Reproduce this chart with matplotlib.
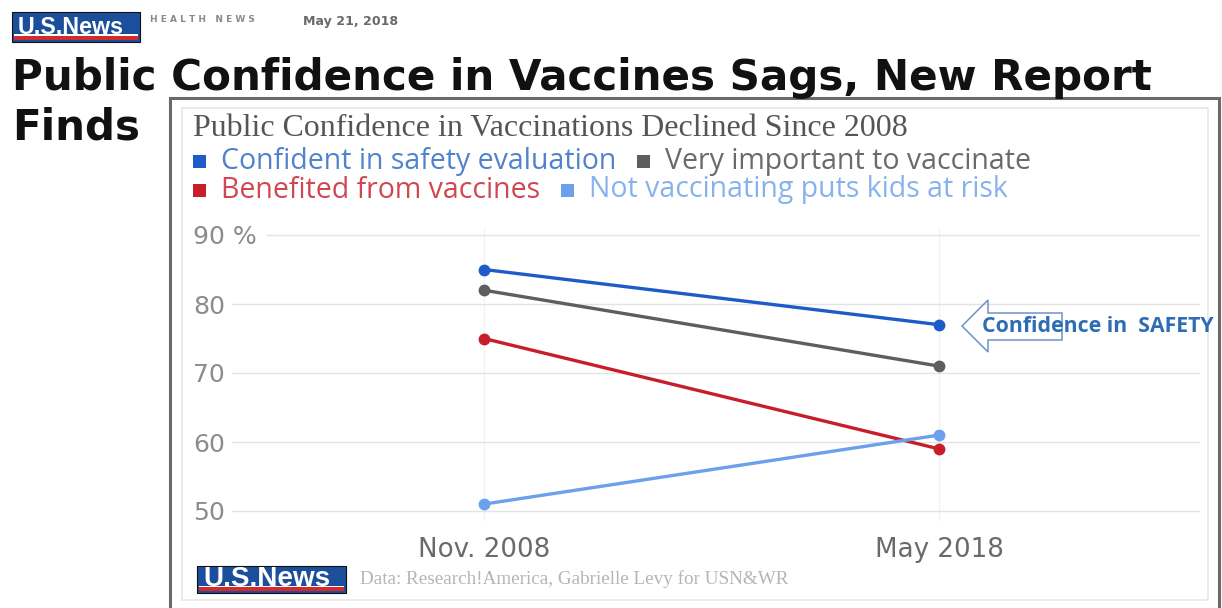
import numpy as np
import matplotlib
matplotlib.use("Agg")
import matplotlib.pyplot as plt
from matplotlib.patches import Rectangle, Polygon

# data
periods = ["Nov. 2008", "May 2018"]
series_names = ["Confident in safety evaluation", "Very important to vaccinate",
                "Benefited from vaccines", "Not vaccinating puts kids at risk"]
confident_safety = [85, 77]
very_important = [82, 71]
benefited = [75, 59]
kids_at_risk = [51, 61]
ytick_values = [50, 60, 70, 80, 90]
ytick_labels = ["50", "60", "70", "80", "90 %"]

line_colors = ["#1d5bc9", "#5e5e5e", "#c81e2c", "#6aa0ec"]
text_colors = ["#4f83cc", "#6a6a6a", "#d04651", "#86b3ee"]

W, H = 1222, 608
fig = plt.figure(figsize=(W / 100, H / 100), dpi=100)
fig.patch.set_facecolor("white")


def fx(x):
    return x / W


def fy(y):
    return 1 - y / H


renderer = fig.canvas.get_renderer()


def size_for(s, width, **kw):
    # font size at which s spans the given pixel width
    probe = fig.text(0, 0, s, fontsize=20, **kw)
    w = probe.get_window_extent(renderer).width
    probe.remove()
    return 20 * width / w


def fit_text(x, y, s, width, **kw):
    kw.pop("fontsize", None)
    fam = {k: kw[k] for k in ("family", "fontweight") if k in kw}
    return fig.text(fx(x), fy(y), s, fontsize=size_for(s, width, **fam), **kw)


def logo(x0, y0, x1, y1):
    fig.add_artist(Rectangle((fx(x0), fy(y1)), fx(x1 - x0), (y1 - y0) / H,
                             facecolor="#1b4f9c", edgecolor="#111111", lw=0.8, zorder=-1))
    h = y1 - y0
    fig.add_artist(Rectangle((fx(x0 + 2), fy(y1 - 2)), fx(x1 - x0 - 4), 0.14 * h / H,
                             facecolor="#d42a2a", edgecolor="none", zorder=-1))
    fig.add_artist(Rectangle((fx(x0 + 2), fy(y1 - 2 - 0.14 * h)), fx(x1 - x0 - 4), 0.06 * h / H,
                             facecolor="white", edgecolor="none", zorder=-1))
    fit_text(x0 + 6, y1 - 0.26 * h, "U.S.News", x1 - x0 - 22, color="white",
             fontweight="bold", family="Liberation Sans", va="baseline", ha="left")


# header
logo(12, 12, 140, 42)
fig.text(fx(150), fy(20), "H E A L T H   N E W S", color="#8a8a8a", fontsize=6.5,
         fontweight="bold", va="center")
fit_text(303, 21, "May 21, 2018", 95, color="#6a6a6a", fontweight="bold", va="center")
fit_text(12, 90, "Public Confidence in Vaccines Sags, New Report", 1143,
         fontweight="bold", family="DejaVu Sans", color="#111111", va="baseline")
fit_text(12, 140, "Finds", 128, fontweight="bold", family="DejaVu Sans",
         color="#111111", va="baseline")

# chart frame (behind the axes)
fig.add_artist(Rectangle((fx(170), fy(620)), fx(1049), 522 / H, facecolor="white",
                         edgecolor="#6a6a6a", lw=2.2, zorder=-3))
fig.add_artist(Rectangle((fx(182), fy(600)), fx(1026), 492 / H, facecolor="white",
                         edgecolor="#e6e6e6", lw=1.2, zorder=-2))

fit_text(193, 128, "Public Confidence in Vaccinations Declined Since 2008", 712,
         family="Liberation Serif", color="#555555", va="center")

# legend rows
leg_size = size_for(series_names[0], 395, family="Open Sans")
rows = [[0, 1], [2, 3]]
row_y = [161, 190]
for r, idx in enumerate(rows):
    x = 193
    for i in idx:
        fig.add_artist(Rectangle((fx(x), fy(row_y[r] + 7)), fx(13), 13 / H,
                                 facecolor=line_colors[i], edgecolor="none"))
        t = fig.text(fx(x + 28), fy(row_y[r]), series_names[i], color=text_colors[i],
                     fontsize=leg_size, family="Open Sans", va="center")
        x = x + 28 + t.get_window_extent(renderer).width + 21

# axes
ylo, yhi = 48.5, 91
ppu = (511 - 235) / 40.0
top_px = 235 - (yhi - 90) * ppu
bot_px = 511 + (50 - ylo) * ppu
ax = fig.add_axes([fx(232), fy(bot_px), fx(1200 - 232), (bot_px - top_px) / H])
ax.set_facecolor("none")
ax.set_zorder(2)
x = np.arange(len(periods))
x_px = [484, 939]
ppx = x_px[1] - x_px[0]
ax.set_xlim(-(x_px[0] - 232) / ppx, 1 + (1200 - x_px[1]) / ppx)
ax.set_ylim(ylo, yhi)

all_series = [confident_safety, very_important, benefited, kids_at_risk]
for vals, c in zip(all_series, line_colors):
    ax.plot(x, vals, color=c, lw=2.4, marker="o", ms=7.5, solid_capstyle="round", zorder=3)

for v in ytick_values:
    ax.axhline(v, color="#e3e3e3", lw=1, zorder=1,
               xmin=(35 / 968 if v == 90 else 0))
ax.set_yticks(ytick_values, ytick_labels)
ax.set_xticks(x, periods)
for s in ax.spines.values():
    s.set_visible(False)
ysize = size_for("80", 32, family="DejaVu Sans")
xsize = size_for(periods[0], 132, family="DejaVu Sans")
ax.tick_params(axis="y", length=0, pad=28, labelsize=ysize, labelcolor="#8c8c8c")
ax.tick_params(axis="x", length=0, pad=11, labelsize=xsize, labelcolor="#6a6a6a")
for lab in ax.get_yticklabels():
    lab.set_horizontalalignment("left")

# faint vertical guides at the two dates
for xp in x:
    ax.axvline(xp, color="#f2f2f2", lw=1, zorder=0)

# annotation arrow and label
arrow_px = [(962, 326), (988, 300), (988, 313), (1062, 313), (1062, 340),
            (988, 340), (988, 352)]
fig.add_artist(Polygon([(fx(a), fy(b)) for a, b in arrow_px], closed=True,
                       facecolor="none", edgecolor="#6f93c9", lw=1.1, zorder=3))
fit_text(982, 327, "Confidence in  SAFETY", 232, color="#2e6db4",
         fontweight="bold", family="Open Sans", va="center", zorder=3)

# footer
logo(197, 566, 346, 593)
fit_text(360, 579, "Data: Research!America, Gabrielle Levy for USN&WR", 430,
         color="#b5b5b5", family="Liberation Serif", va="center")

fig.savefig("out.png", dpi=100, facecolor="white")
